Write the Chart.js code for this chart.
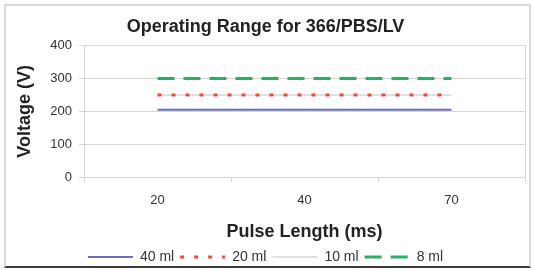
<!DOCTYPE html>
<html>
<head>
<meta charset="utf-8">
<script src="https://cdn.jsdelivr.net/npm/chart.js@4/dist/chart.umd.min.js"></script>
<style>
  html, body { margin: 0; padding: 0; background: #fff; }
  #wrap { position: relative; width: 533px; height: 270px; }
  #frame { position: absolute; left: 4px; top: 4px; width: 523px; height: 260px;
           border: 2px solid #dcd8d4; border-bottom: 2px solid #3c3c3c; }
  #chart { position: absolute; left: 0; top: 0; }
</style>
</head>
<body>
<div id="wrap">
  <div id="frame"></div>
  <canvas id="chart" width="533" height="270"></canvas>
</div>
<script>
// Daten
const pulseLengths = ['20', '40', '70'];
const seriesNames = ['40 ml', '20 ml', '10 ml', '8 ml'];
const volt40 = [205, 205, 205];
const volt20 = [250, 250, 250];
const volt10 = [250, 250, 250];
const volt8 = [300, 300, 300];
const yMin = 0, yMax = 400, yStep = 100;

const FONT = '"Liberation Sans", Arial, sans-serif';
const gridColor = '#d9d5d1';

// rechter Rand der Plotfläche
const plotBorder = {
    id: 'plotBorder',
    beforeDatasetsDraw(chart) {
        const { ctx, chartArea: a } = chart;
        ctx.save();
        ctx.strokeStyle = gridColor;
        ctx.lineWidth = 1;
        ctx.beginPath();
        ctx.moveTo(a.right + 0.5, a.top);
        ctx.lineTo(a.right + 0.5, a.bottom);
        ctx.stroke();
        ctx.restore();
    }
};

// Legendeneinträge mit Strichmuster der Linien
function legendLabels(chart) {
    return Chart.defaults.plugins.legend.labels.generateLabels(chart).map(item => {
        const ds = chart.data.datasets[item.datasetIndex];
        item.lineDash = ds.borderDash || [];
        item.lineWidth = ds.borderWidth;
        item.strokeStyle = ds.borderColor;
        item.fillStyle = ds.borderColor;
        return item;
    });
}

new Chart(document.getElementById('chart'), {
    type: 'line',
    data: {
        labels: pulseLengths,
        datasets: [
            { label: seriesNames[0], data: volt40, borderColor: '#6c6db7', borderWidth: 2, pointRadius: 0 },
            { label: seriesNames[1], data: volt20, borderColor: '#f0493b', borderWidth: 3, borderDash: [4, 10], pointRadius: 0 },
            { label: seriesNames[2], data: volt10, borderColor: '#d6d6d6', borderWidth: 1.5, pointRadius: 0 },
            { label: seriesNames[3], data: volt8, borderColor: '#27b066', borderWidth: 3, borderDash: [17, 9], pointRadius: 0 }
        ]
    },
    options: {
        responsive: false,
        animation: false,
        devicePixelRatio: 1,
        layout: { padding: { left: 6, right: 8, top: 0, bottom: -4 } },
        scales: {
            x: {
                offset: true,
                grid: { offset: true, drawOnChartArea: false, drawTicks: true, tickLength: 5, color: gridColor },
                border: { color: gridColor },
                ticks: { color: '#333', padding: 11, font: { family: FONT, size: 13 } },
                title: { display: true, text: 'Pulse Length (ms)', color: '#222',
                         font: { family: FONT, size: 18, weight: 'bold' }, padding: { top: 0, bottom: 1 } },
                afterFit: s => { s.height = 67; }
            },
            y: {
                min: yMin, max: yMax,
                grid: { color: gridColor, tickLength: 5 },
                border: { color: gridColor },
                ticks: { stepSize: yStep, color: '#333', padding: 7, font: { family: FONT, size: 13 } },
                title: { display: true, text: 'Voltage (V)', color: '#222',
                         font: { family: FONT, size: 18, weight: 'bold' }, padding: { top: 8, bottom: 0 } },
                afterFit: s => { s.width = 78; }
            }
        },
        plugins: {
            title: {
                display: true, text: 'Operating Range for 366/PBS/LV', color: '#222',
                font: { family: FONT, size: 18, weight: 'bold' },
                padding: { top: 16, bottom: 8 }
            },
            legend: {
                position: 'bottom',
                labels: {
                    color: '#333', font: { family: FONT, size: 14 },
                    usePointStyle: true, pointStyle: 'line', pointStyleWidth: 45, boxWidth: 45,
                    padding: 6, generateLabels: legendLabels
                }
            },
            tooltip: { enabled: false }
        }
    },
    plugins: [plotBorder]
});
</script>
</body>
</html>
